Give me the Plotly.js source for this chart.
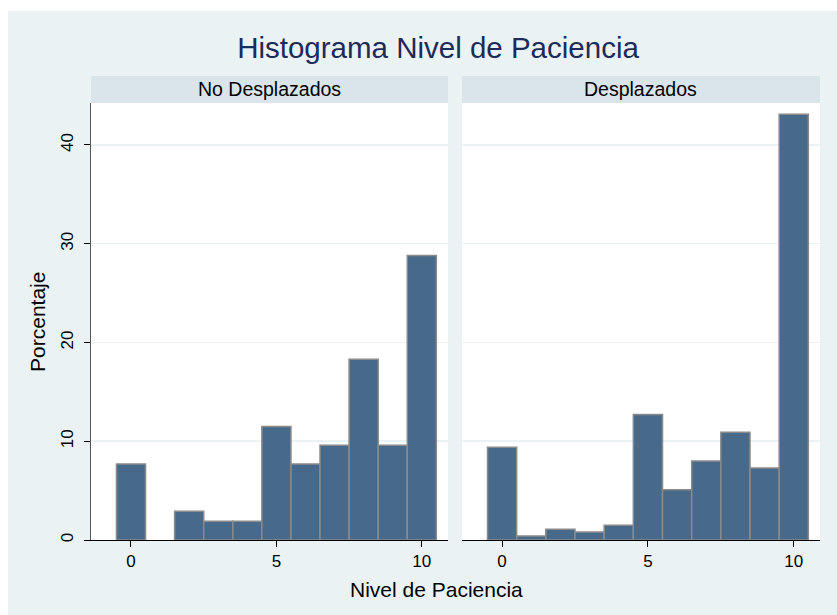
<!DOCTYPE html>
<html>
<head>
<meta charset="utf-8">
<script src="https://cdn.plot.ly/plotly-3.0.1.min.js"></script>
<style>
  html, body { margin: 0; padding: 0; background: #ffffff; width: 837px; height: 615px; overflow: hidden; }
  #chart { position: absolute; left: 8px; top: 11px; width: 829px; height: 604px; }
</style>
</head>
<body>
<div id="chart"></div>
<script>
// Nivel de Paciencia (0..10)
const niveles = [0, 1, 2, 3, 4, 5, 6, 7, 8, 9, 10];
// Percentages
const noDesplazados = [7.7, 0, 2.9, 1.9, 1.9, 11.5, 7.7, 9.6, 18.3, 9.6, 28.8];
const desplazados   = [9.4, 0.4, 1.1, 0.8, 1.5, 12.7, 5.1, 8.0, 10.9, 7.3, 43.1];
const panelNames = ["No Desplazados", "Desplazados"];
const xTicks = [0, 5, 10];
const yTicks = [0, 10, 20, 30, 40];

const barFill = "#476a8b";
const barLine = "#8a8a8a";
const bg = "#eaf2f3";
const strip = "#d9e5ea";
const fontFam = "Liberation Sans, Arial, Helvetica, sans-serif";

function outlineWidths(vals) { return vals.map(v => (v > 0 ? 1.5 : 0)); }

const traces = [
  { type: "bar", x: niveles, y: noDesplazados, width: 1, xaxis: "x", yaxis: "y",
    marker: { color: barFill, line: { color: barLine, width: outlineWidths(noDesplazados) } }, hoverinfo: "x+y" },
  { type: "bar", x: niveles, y: desplazados, width: 1, xaxis: "x2", yaxis: "y2",
    marker: { color: barFill, line: { color: barLine, width: outlineWidths(desplazados) } }, hoverinfo: "x+y" }
];

const dom1 = [0, 0.4897];
const dom2 = [0.5089, 1];
const stripTop = 1.0618;

const xaxisBase = {
  range: [-1.375, 10.9], tickvals: xTicks, ticktext: xTicks.map(String),
  ticks: "outside", ticklen: 6, tickwidth: 1, tickcolor: "#000000",
  showline: true, linecolor: "#000000", linewidth: 1, showgrid: false, zeroline: false,
  tickfont: { family: fontFam, size: 17, color: "#000000" }, fixedrange: true
};

const layout = {
  width: 829, height: 604,
  margin: { l: 83, r: 17, t: 92, b: 75 },
  paper_bgcolor: bg, plot_bgcolor: "#ffffff",
  showlegend: false, bargap: 0,
  font: { family: fontFam, color: "#000000" },
  title: { text: "Histograma Nivel de Paciencia", x: 0.5187, xref: "container", xanchor: "center",
           y: 0.9387, yref: "container", yanchor: "middle",
           font: { family: fontFam, size: 29.5, color: "#1c2b5a" } },
  xaxis: Object.assign({}, xaxisBase, { domain: dom1, anchor: "y" }),
  xaxis2: Object.assign({}, xaxisBase, { domain: dom2, anchor: "y2" }),
  yaxis: {
    range: [0, 44.25], tickvals: yTicks, ticktext: yTicks.map(String), tickangle: -90,
    ticks: "outside", ticklen: 6, tickwidth: 1, tickcolor: "#000000", ticklabelstandoff: 4,
    showline: true, linecolor: "#555555", linewidth: 1.5,
    showgrid: true, gridcolor: bg, gridwidth: 1.5, zeroline: false,
    tickfont: { family: fontFam, size: 17, color: "#000000" }, fixedrange: true, anchor: "x"
  },
  yaxis2: {
    range: [0, 44.25], tickvals: yTicks, showticklabels: false, ticks: "",
    showline: false, showgrid: true, gridcolor: bg, gridwidth: 1.5, zeroline: false,
    fixedrange: true, anchor: "x2", matches: "y"
  },
  shapes: [
    { type: "rect", xref: "paper", yref: "paper", x0: dom1[0], x1: dom1[1], y0: 1, y1: stripTop,
      fillcolor: strip, line: { width: 0 }, layer: "below" },
    { type: "rect", xref: "paper", yref: "paper", x0: dom2[0], x1: dom2[1], y0: 1, y1: stripTop,
      fillcolor: strip, line: { width: 0 }, layer: "below" }
  ],
  annotations: [
    { text: panelNames[0], xref: "paper", yref: "paper", x: (dom1[0] + dom1[1]) / 2, y: (1 + stripTop) / 2,
      xanchor: "center", yanchor: "middle", showarrow: false, font: { family: fontFam, size: 19.5, color: "#000000" } },
    { text: panelNames[1], xref: "paper", yref: "paper", x: (dom2[0] + dom2[1]) / 2, y: (1 + stripTop) / 2,
      xanchor: "center", yanchor: "middle", showarrow: false, font: { family: fontFam, size: 19.5, color: "#000000" } },
    { text: "Nivel de Paciencia", xref: "paper", yref: "paper", x: 0.4746, y: -0.1144,
      xanchor: "center", yanchor: "middle", showarrow: false, font: { family: fontFam, size: 21, color: "#000000" } },
    { text: "Porcentaje", xref: "paper", yref: "paper", x: -0.0727, y: 0.4989, textangle: -90,
      xanchor: "center", yanchor: "middle", showarrow: false, font: { family: fontFam, size: 21, color: "#000000" } }
  ]
};

Plotly.newPlot("chart", traces, layout, { displayModeBar: false, staticPlot: true });
</script>
</body>
</html>
